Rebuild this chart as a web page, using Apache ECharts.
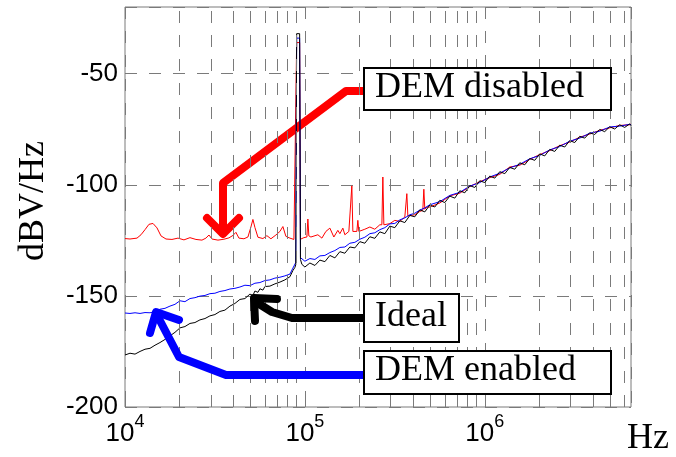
<!DOCTYPE html>
<html>
<head>
<meta charset="utf-8">
<script src="https://cdn.jsdelivr.net/npm/echarts@6/dist/echarts.min.js"></script>
<style>
  html, body { margin: 0; padding: 0; background: #fff; }
  #chart { width: 676px; height: 457px; }
</style>
</head>
<body>
<div id="chart"></div>
<script>
// frequency (Hz) / level (dBV/Hz) pairs
var disabledData = [
  [1.0e4,-124.2],[1.066e4,-124.4],[1.166e4,-124.0],[1.227e4,-122.5],[1.292e4,-120.2],
  [1.359e4,-117.8],[1.431e4,-117.4],[1.506e4,-119.4],[1.585e4,-123.0],[1.690e4,-124.4],
  [1.824e4,-124.6],[1.970e4,-124.0],[2.127e4,-124.8],[2.297e4,-123.8],[2.480e4,-124.6],
  [2.678e4,-124.9],[2.818e4,-124.0],[2.929e4,-122.6],[3.043e4,-124.4],[3.286e4,-124.9],
  [3.548e4,-124.5],[3.784e4,-123.9],[3.981e4,-122.8],[4.137e4,-121.4],[4.299e4,-124.0],
  [4.584e4,-124.3],[4.824e4,-123.5],[5.012e4,-119.0],[5.142e4,-115.6],[5.275e4,-119.2],
  [5.482e4,-123.6],[5.843e4,-124.2],[6.150e4,-122.9],[6.474e4,-124.3],[6.899e4,-122.6],
  [7.263e4,-121.0],[7.546e4,-118.8],[7.842e4,-123.2],[8.254e4,-124.0],[8.689e4,-124.6],
  [8.9e4,-124.0],[9.0e4,-36],[9.35e4,-36],[9.45e4,-124.5],[9.624e4,-124.2],[9.873e4,-123.8],
  [1.026e5,-123.5],[1.039e5,-115.4],[1.052e5,-123.0],[1.080e5,-123.5],[1.181e5,-122.5],
  [1.243e5,-124.0],[1.308e5,-121.0],[1.377e5,-119.5],[1.449e5,-123.5],[1.525e5,-120.5],
  [1.565e5,-122.0],[1.626e5,-119.5],[1.668e5,-122.5],[1.756e5,-121.0],[1.801e5,-121.0],
  [1.824e5,-100.5],[1.848e5,-121.0],[1.872e5,-120.5],[1.945e5,-121.0],[1.970e5,-116.0],
  [1.995e5,-121.0],[2.021e5,-121.0],[2.154e5,-120.0],[2.297e5,-119.0],[2.448e5,-120.0],
  [2.610e5,-118.0],[2.679e5,-118.0],[2.713e5,-96.5],[2.748e5,-118.0],[2.783e5,-117.5],
  [2.966e5,-117.5],[3.162e5,-116.0],[3.371e5,-116.5],[3.594e5,-114.5],[3.640e5,-114.5],
  [3.688e5,-104.0],[3.736e5,-114.0],[3.784e5,-114.0],[4.084e5,-113.5],[4.354e5,-112.0],
  [4.525e5,-111.5],[4.584e5,-102.0],[4.642e5,-111.0],[4.762e5,-110.0],[4.948e5,-110.0],
  [5.623e5,-108.2],[6.391e5,-105.0],[7.263e5,-103.8],[8.254e5,-100.8],[9.380e5,-98.6],
  [1.066e6,-96.8],[1.212e6,-95.3],[1.377e6,-92.0],[1.565e6,-91.2],[1.778e6,-88.6],
  [2.021e6,-86.4],[2.297e6,-84.6],[2.610e6,-82.4],[2.966e6,-80.8],[3.371e6,-78.6],
  [3.831e6,-77.2],[4.354e6,-75.5],[4.948e6,-74.4],[5.623e6,-73.3],[6.391e6,-73.0],[6.5e6,-72.7]
];

var enabledData = [
  [1.0e4,-157.7],[1.066e4,-157.9],[1.137e4,-157.6],[1.212e4,-157.9],[1.292e4,-157.5],
  [1.377e4,-157.6],[1.468e4,-157.1],[1.565e4,-156.0],[1.668e4,-155.6],[1.778e4,-154.6],
  [1.896e4,-153.8],[2.021e4,-152.2],[2.154e4,-152.6],[2.297e4,-151.2],[2.448e4,-150.8],
  [2.610e4,-150.1],[2.783e4,-149.8],[2.966e4,-149.0],[3.162e4,-148.8],[3.371e4,-148.0],
  [3.594e4,-147.6],[3.831e4,-146.9],[4.084e4,-146.6],[4.354e4,-146.0],[4.642e4,-145.2],
  [4.948e4,-145.4],[5.275e4,-144.3],[5.623e4,-144.0],[5.995e4,-143.1],[6.391e4,-142.8],
  [6.813e4,-142.0],[7.263e4,-141.6],[7.743e4,-141.0],[8.254e4,-140.2],[8.577e4,-137.5],
  [8.799e4,-136.8],[8.9e4,-135.0],[9.0e4,-34],[9.35e4,-34],[9.45e4,-132.8],[9.624e4,-133.4],
  [1.0e5,-134.4],[1.066e5,-133.2],[1.137e5,-133.6],[1.212e5,-132.0],[1.292e5,-131.8],
  [1.377e5,-130.5],[1.468e5,-129.6],[1.565e5,-128.2],[1.668e5,-128.0],[1.778e5,-126.3],
  [1.896e5,-125.9],[2.021e5,-124.5],[2.154e5,-123.6],[2.297e5,-122.0],[2.448e5,-121.6],
  [2.610e5,-120.2],[2.783e5,-119.3],[2.966e5,-117.6],[3.162e5,-117.4],[3.371e5,-115.8],
  [3.594e5,-114.9],[3.831e5,-113.5],[4.084e5,-112.8],[4.354e5,-111.4],[4.642e5,-110.4],
  [4.948e5,-109.0],[5.623e5,-107.6],[6.391e5,-104.8],[7.263e5,-103.4],[8.254e5,-100.6],
  [9.380e5,-99.0],[1.066e6,-96.5],[1.212e6,-94.8],[1.377e6,-92.4],[1.565e6,-90.8],
  [1.778e6,-88.3],[2.021e6,-86.8],[2.297e6,-84.3],[2.610e6,-82.8],[2.966e6,-80.4],
  [3.371e6,-79.0],[3.831e6,-76.8],[4.354e6,-75.9],[4.948e6,-74.0],[5.623e6,-73.6],
  [6.391e6,-72.8],[6.5e6,-73.0]
];

var idealData = [
  [1.0e4,-176.6],[1.066e4,-175.8],[1.137e4,-176.2],[1.212e4,-175.0],[1.292e4,-174.0],
  [1.377e4,-173.6],[1.468e4,-172.2],[1.565e4,-171.0],[1.668e4,-169.6],[1.778e4,-168.0],
  [1.896e4,-166.4],[2.021e4,-164.4],[2.154e4,-163.8],[2.297e4,-162.4],[2.448e4,-162.0],
  [2.610e4,-160.8],[2.783e4,-160.2],[2.966e4,-159.0],[3.162e4,-158.4],[3.371e4,-157.0],
  [3.594e4,-156.4],[3.831e4,-154.6],[4.084e4,-153.4],[4.354e4,-151.6],[4.642e4,-151.2],
  [4.948e4,-149.2],[5.142e4,-149.8],[5.275e4,-147.8],[5.482e4,-148.4],[5.623e4,-146.8],
  [5.843e4,-147.4],[5.995e4,-145.8],[6.391e4,-145.6],[6.813e4,-144.6],[7.263e4,-143.8],
  [7.743e4,-142.8],[8.254e4,-141.4],[8.577e4,-138.6],[8.799e4,-137.2],[8.9e4,-136.0],
  [9.0e4,-32],[9.35e4,-32],[9.45e4,-133.6],[9.624e4,-135.8],
  [1.0e5,-137.0],[1.066e5,-135.2],[1.137e5,-136.3],[1.212e5,-133.9],[1.292e5,-134.6],
  [1.377e5,-131.8],[1.468e5,-132.9],[1.565e5,-130.1],[1.668e5,-130.8],[1.778e5,-128.0],
  [1.896e5,-128.4],[2.021e5,-125.6],[2.154e5,-126.3],[2.297e5,-123.4],[2.448e5,-124.1],
  [2.610e5,-121.2],[2.783e5,-122.0],[2.966e5,-118.6],[3.162e5,-119.3],[3.371e5,-116.2],
  [3.594e5,-117.0],[3.831e5,-113.8],[4.084e5,-114.4],[4.354e5,-111.3],[4.642e5,-112.2],
  [4.948e5,-109.1],[5.275e5,-110.0],[5.623e5,-107.0],[5.995e5,-108.0],[6.391e5,-105.1],
  [6.813e5,-106.0],[7.263e5,-102.7],[7.743e5,-103.6],[8.254e5,-100.4],[8.799e5,-101.2],
  [9.380e5,-98.2],[1.0e6,-99.0],[1.066e6,-96.1],[1.137e6,-97.0],[1.212e6,-94.1],
  [1.292e6,-95.0],[1.377e6,-92.2],[1.468e6,-93.0],[1.565e6,-90.1],[1.668e6,-91.0],
  [1.778e6,-88.2],[1.896e6,-89.0],[2.021e6,-86.1],[2.154e6,-87.0],[2.297e6,-84.1],
  [2.448e6,-85.0],[2.610e6,-82.2],[2.783e6,-83.0],[2.966e6,-80.1],[3.162e6,-81.0],
  [3.371e6,-78.2],[3.594e6,-79.0],[3.831e6,-76.6],[4.084e6,-77.4],[4.354e6,-75.1],
  [4.642e6,-76.1],[4.948e6,-73.9],[5.275e6,-74.9],[5.623e6,-73.0],[5.995e6,-74.2],
  [6.391e6,-72.6],[6.5e6,-73.4]
];

// dashed grid at 2..9 x 10^n
var minorGridX = [2e4,3e4,4e4,5e4,6e4,7e4,8e4,9e4,
                  2e5,3e5,4e5,5e5,6e5,7e5,8e5,9e5,
                  2e6,3e6,4e6,5e6,6e6];

var xRange = [1e4, 6.5e6];
var yRange = [-200, -20];

var gridGray = '#7a7a7a';
var dash = [12, 12];
var serif = '"Liberation Serif", "Times New Roman", serif';
var sans = '"Liberation Sans", Arial, sans-serif';

var chart = echarts.init(document.getElementById('chart'));

function arrow(points, color, z) {
    return {
        type: 'polyline', z: z, silent: true,
        shape: { points: points },
        style: { stroke: color, lineWidth: 8, fill: null, lineJoin: 'round', lineCap: 'round' }
    };
}

function box(x, y, w, h, label, ty) {
    return [
        { type: 'rect', z: 20, shape: { x: x, y: y, width: w, height: h },
          style: { fill: '#fff', stroke: '#000', lineWidth: 2 } },
        { type: 'text', z: 21, x: x + 11, y: ty,
          style: { text: label, x: 0, y: 0, font: '36px ' + serif, fill: '#000',
                   align: 'left', verticalAlign: 'middle',
                   textAlign: 'left', textVerticalAlign: 'middle' } }
    ];
}

var graphics = [].concat(
    [
        arrow([[364, 91], [346, 91], [223, 183], [223, 233]], '#ff0000', 1),
        arrow([[207, 218], [223, 234], [239, 218]], '#ff0000', 1),
        arrow([[364, 318], [292, 318], [272, 312], [256, 302]], '#000000', 10),
        arrow([[277, 299], [254, 298], [255, 321]], '#000000', 10),
        arrow([[364, 375], [226, 375], [179, 357], [157, 315]], '#0000ff', 10),
        arrow([[179, 320], [156, 312], [150, 333]], '#0000ff', 10)
    ],
    box(364, 68, 247, 42, 'DEM disabled', 88),
    box(364, 294, 95, 48, 'Ideal', 317),
    box(364, 351, 247, 43, 'DEM enabled', 371),
    [
        { type: 'text', z: 5, x: 34, y: 201, rotation: Math.PI / 2,
          style: { text: 'dBV/Hz', x: 0, y: 0, font: '36px ' + serif, fill: '#000',
                   align: 'center', verticalAlign: 'middle',
                   textAlign: 'center', textVerticalAlign: 'middle' } },
        { type: 'text', z: 5, x: 627, y: 439,
          style: { text: 'Hz', x: 0, y: 0, font: '36px ' + serif, fill: '#000',
                   align: 'left', verticalAlign: 'middle',
                   textAlign: 'left', textVerticalAlign: 'middle' } }
    ]
);

var option = {
    animation: false,
    backgroundColor: '#fff',
    grid: {
        left: 125, right: 45, top: 7, bottom: 50,
        show: true, borderColor: gridGray, borderWidth: 1,
        outerBoundsMode: 'none'
    },
    xAxis: {
        type: 'log', logBase: 10,
        min: xRange[0], max: xRange[1],
        axisLine: { show: false },
        axisTick: { show: true, inside: true, length: 7, lineStyle: { color: gridGray } },
        splitLine: { show: true, lineStyle: { color: gridGray, type: dash, width: 1 } },
        axisLabel: {
            margin: 6,
            showMaxLabel: false,
            formatter: function (v) {
                return '{b|10}{e|' + Math.round(Math.log10(v)) + '}';
            },
            rich: {
                b: { fontSize: 26, fontFamily: sans, color: '#000', lineHeight: 34, verticalAlign: 'bottom' },
                e: { fontSize: 18, fontFamily: sans, color: '#000', lineHeight: 19, verticalAlign: 'top' }
            }
        }
    },
    yAxis: {
        type: 'value',
        min: yRange[0], max: yRange[1], interval: 50,
        axisLine: { show: false },
        axisTick: { show: false },
        splitLine: { show: true, lineStyle: { color: gridGray, type: dash, width: 1 } },
        axisLabel: {
            margin: 7, showMaxLabel: false,
            fontSize: 26, fontFamily: sans, color: '#000'
        }
    },
    graphic: graphics,
    series: [
        {
            name: 'grid', type: 'line', data: [], z: 1, silent: true,
            markLine: {
                silent: true, symbol: ['none', 'none'], animation: false,
                label: { show: false },
                lineStyle: { color: gridGray, type: dash, width: 1 },
                emphasis: { disabled: true },
                data: minorGridX.map(function (v) { return { xAxis: v }; })
            }
        },
        {
            name: 'DEM disabled', type: 'line', data: disabledData, z: 2,
            symbol: 'none', lineStyle: { color: '#ff0000', width: 1 }
        },
        {
            name: 'DEM enabled', type: 'line', data: enabledData, z: 3,
            symbol: 'none', lineStyle: { color: '#0000ff', width: 1 }
        },
        {
            name: 'Ideal', type: 'line', data: idealData, z: 4,
            symbol: 'none', lineStyle: { color: '#000000', width: 1 }
        }
    ]
};

chart.setOption(option);
</script>
</body>
</html>
